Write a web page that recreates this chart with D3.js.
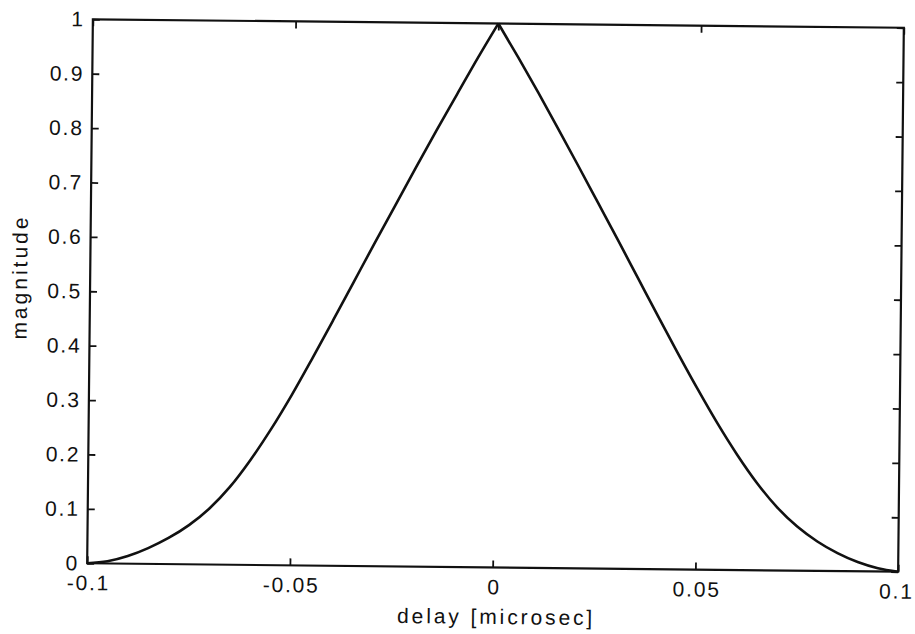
<!DOCTYPE html>
<html>
<head>
<meta charset="utf-8">
<script src="https://cdn.jsdelivr.net/npm/d3@7"></script>
<style>
  html, body { margin: 0; padding: 0; background: #fff; }
  svg { display: block; }
  text { font-family: "Liberation Sans", Arial, Helvetica, sans-serif; fill: #111; }
</style>
</head>
<body>
<svg id="chart" width="915" height="634"></svg>
<script>
// ---- data ----
const delay = [-0.1, -0.095, -0.09, -0.085, -0.08, -0.075, -0.07, -0.065, -0.06, -0.055, -0.05,
               -0.045, -0.04, -0.035, -0.03, -0.025, -0.02, -0.015, -0.01, -0.005, 0,
               0.005, 0.01, 0.015, 0.02, 0.025, 0.03, 0.035, 0.04, 0.045, 0.05,
               0.055, 0.06, 0.065, 0.07, 0.075, 0.08, 0.085, 0.09, 0.095, 0.1];
const magnitude = [0, 0.004, 0.014, 0.029, 0.048, 0.072, 0.103, 0.143, 0.193, 0.250, 0.313,
                   0.381, 0.451, 0.522, 0.593, 0.663, 0.733, 0.802, 0.869, 0.936, 1.0,
                   0.938, 0.874, 0.808, 0.741, 0.673, 0.605, 0.536, 0.467, 0.399, 0.333,
                   0.270, 0.212, 0.160, 0.116, 0.081, 0.054, 0.033, 0.017, 0.006, 0];
const xTicks = [-0.1, -0.05, 0, 0.05, 0.1];
const xTickLabels = ["-0.1", "-0.05", "0", "0.05", "0.1"];
const yTicks = [0, 0.1, 0.2, 0.3, 0.4, 0.5, 0.6, 0.7, 0.8, 0.9, 1];
const yTickLabels = ["0", "0.1", "0.2", "0.3", "0.4", "0.5", "0.6", "0.7", "0.8", "0.9", "1"];
const xLabel = "delay [microsec]";
const yLabel = "magnitude";

// ---- layout ----
const L = 90, R = 901, T = 23.5, B = 567.5;
const svg = d3.select("#chart");
// the scanned original is slightly rotated
const root = svg.append("g").attr("transform", "rotate(0.6, 495.5, 295.5)");

const x = d3.scaleLinear().domain([-0.1, 0.1]).range([L, R]);
const y = d3.scaleLinear().domain([0, 1]).range([B, T]);

const fontSize = 21, ls = 1.8, tickLen = 7;

// axes (MATLAB-like box with inward ticks on all four sides)
const axBottom = d3.axisBottom(x).tickValues(xTicks).tickSize(-tickLen).tickFormat((d, i) => xTickLabels[i]).tickPadding(12);
const axTop = d3.axisTop(x).tickValues(xTicks).tickSize(-tickLen).tickFormat("");
const axLeft = d3.axisLeft(y).tickValues(yTicks).tickSize(-tickLen).tickFormat((d, i) => yTickLabels[i]).tickPadding(10);
const axRight = d3.axisRight(y).tickValues(yTicks).tickSize(-tickLen).tickFormat("");

function style(g) {
  g.select(".domain").remove();
  g.selectAll(".tick line").attr("stroke", "#111").attr("stroke-width", 1.8);
  g.selectAll(".tick text")
    .attr("font-size", fontSize)
    .attr("letter-spacing", ls)
    .attr("fill", "#111")
    .style("font-family", "'Liberation Sans', Arial, sans-serif");
}

root.append("g").attr("transform", `translate(0,${B})`).call(axBottom).call(style)
  .selectAll(".tick text").attr("dy", "0.71em").attr("dx", (d, i) => i === xTicks.length - 1 ? -2 : 1);
root.append("g").attr("transform", `translate(0,${T})`).call(axTop).call(style);
root.append("g").attr("transform", `translate(${L},0)`).call(axLeft).call(style)
  .selectAll(".tick text").attr("dx", 2);
root.append("g").attr("transform", `translate(${R},0)`).call(axRight).call(style);

// box
root.append("rect")
  .attr("x", L).attr("y", T).attr("width", R - L).attr("height", B - T)
  .attr("fill", "none").attr("stroke", "#111").attr("stroke-width", 2.2);

// curve: two halves so the peak stays sharp
const pts = delay.map((d, i) => ({ x: d, y: magnitude[i] }));
const line = d3.line().x(d => x(d.x)).y(d => y(d.y)).curve(d3.curveMonotoneX);
const left = pts.filter(p => p.x <= 0), right = pts.filter(p => p.x >= 0);
[left, right].forEach(seg => {
  root.append("path").datum(seg)
    .attr("d", line)
    .attr("fill", "none").attr("stroke", "#111").attr("stroke-width", 2.6)
    .attr("stroke-linejoin", "round");
});

// axis labels
root.append("text")
  .attr("x", (L + R) / 2 + 4).attr("y", 624)
  .attr("text-anchor", "middle")
  .attr("font-size", fontSize).attr("letter-spacing", 2.9)
  .text(xLabel);
root.append("text")
  .attr("transform", `translate(27,${282}) rotate(-90)`)
  .attr("text-anchor", "middle")
  .attr("font-size", fontSize).attr("letter-spacing", 3)
  .text(yLabel);
</script>
</body>
</html>
